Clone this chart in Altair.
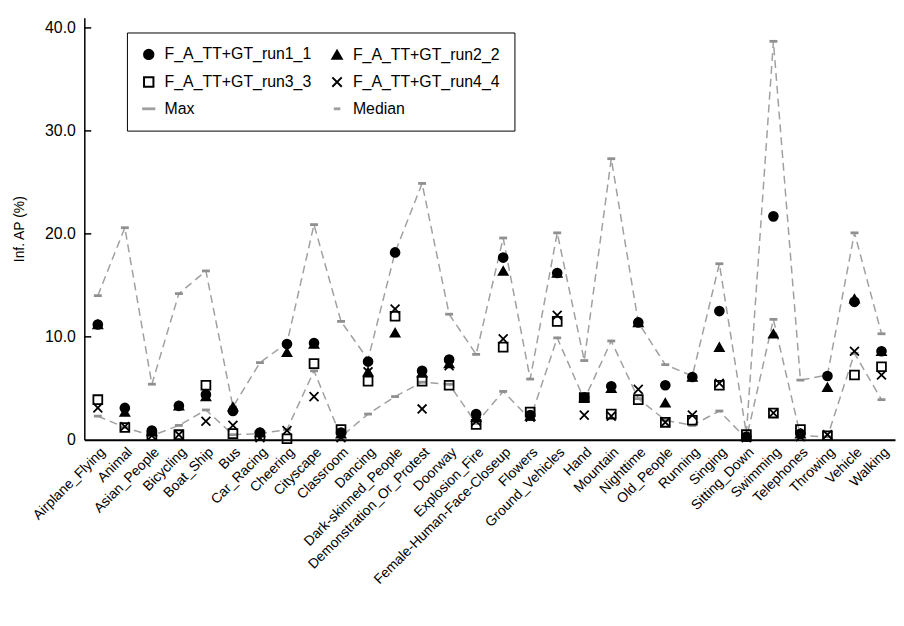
import altair as alt
import pandas as pd

FONT = "Liberation Sans"

categories = [
    "Airplane_Flying", "Animal", "Asian_People", "Bicycling", "Boat_Ship", "Bus",
    "Car_Racing", "Cheering", "Cityscape", "Classroom", "Dancing", "Dark-skinned_People",
    "Demonstration_Or_Protest", "Doorway", "Explosion_Fire", "Female-Human-Face-Closeup",
    "Flowers", "Ground_Vehicles", "Hand", "Mountain", "Nighttime", "Old_People",
    "Running", "Singing", "Sitting_Down", "Swimming", "Telephones", "Throwing",
    "Vehicle", "Walking",
]

run1 = [11.2, 3.1, 0.9, 3.3, 4.4, 2.8, 0.7, 9.3, 9.4, 0.7, 7.6, 18.2, 6.7, 7.8, 2.5,
        17.7, 2.4, 16.2, 4.1, 5.2, 11.4, 5.3, 6.1, 12.5, 0.3, 21.7, 0.6, 6.2, 13.4, 8.6]
run2 = [11.2, 2.7, 0.8, 3.3, 4.2, 3.2, 0.7, 8.5, 9.3, 0.6, 6.6, 10.4, 6.5, 7.4, 2.2,
        16.4, 2.3, 16.2, 4.1, 5.0, 11.4, 3.6, 6.1, 9.0, 0.3, 10.3, 0.6, 5.1, 13.7, 8.6]
run3 = [3.9, 1.2, 0.4, 0.5, 5.3, 0.6, 0.4, 0.1, 7.4, 1.0, 5.7, 12.0, 5.7, 5.3, 1.5,
        9.0, 2.7, 11.5, 4.1, 2.5, 3.9, 1.7, 1.9, 5.3, 0.5, 2.6, 1.0, 0.4, 6.3, 7.1]
run4 = [3.1, 1.3, 0.4, 0.5, 1.8, 1.4, 0.2, 0.9, 4.2, 0.2, 6.6, 12.7, 3.0, 7.2, 1.8,
        9.8, 2.2, 12.1, 2.4, 2.3, 4.9, 1.7, 2.4, 5.5, 0.2, 2.6, 0.3, 0.5, 8.6, 6.3]
max_vals = [14.0, 20.6, 5.4, 14.2, 16.4, 3.2, 7.5, 9.4, 20.9, 11.5, 7.8, 18.2, 24.9, 12.2, 8.3,
            19.6, 5.9, 20.1, 7.7, 27.3, 11.4, 7.3, 6.2, 17.1, 0.6, 38.7, 5.8, 6.3, 20.1, 10.3]
median_vals = [2.3, 1.2, 0.4, 1.4, 2.9, 0.5, 0.6, 1.0, 6.7, 0.3, 2.5, 4.2, 5.6, 5.4, 1.6,
               4.7, 2.0, 9.9, 3.9, 9.6, 4.0, 1.9, 1.4, 2.8, 0.1, 11.7, 0.4, 0.3, 8.4, 3.9]

series_names = ["F_A_TT+GT_run1_1", "F_A_TT+GT_run2_2", "F_A_TT+GT_run3_3",
                "F_A_TT+GT_run4_4", "Max", "Median"]
y_ticks = [0, 10, 20, 30, 40]

run_rows = []
for name, vals in zip(series_names[:4], [run1, run2, run3, run4]):
    for c, v in zip(categories, vals):
        run_rows.append({"series": name, "category": c, "value": v})
df_runs = pd.DataFrame(run_rows)

stat_rows = []
for name, vals in zip(series_names[4:], [max_vals, median_vals]):
    for c, v in zip(categories, vals):
        stat_rows.append({"series": name, "category": c, "value": v})
df_stats = pd.DataFrame(stat_rows)

df_ticks = pd.DataFrame({"value": y_ticks[1:]})

GRAY = "#a0a0a0"
X_SHAPE = "M-1,-1L1,1M-1,1L1,-1"
shapes = ["circle", "triangle-up", "square", X_SHAPE,
          "M-1.4,-0.3H1.4V0.3H-1.4Z", "M-0.7,-0.3H0.7V0.3H-0.7Z"]
fills = ["black", "black", "transparent", "transparent", GRAY, GRAY]
strokes = ["black", "black", "black", "black", "transparent", "transparent"]

x_enc = alt.X(
    "category:N", sort=categories,
    scale=alt.Scale(type="point", padding=0.5),
    axis=alt.Axis(title=None, labelAngle=-45, labelFontSize=14, labelFont=FONT,
                  labelColor="black", ticks=False, domainColor="black",
                  domainWidth=2, labelPadding=5, labelLimit=0),
)
y_enc = alt.Y(
    "value:Q",
    scale=alt.Scale(domain=[0, 41], nice=False, zero=True),
    axis=alt.Axis(values=y_ticks, title="Inf. AP (%)",
                  labelExpr="datum.value == 0 ? '0' : format(datum.value, '.1f')",
                  ticks=False, domainColor="black", domainWidth=1.5,
                  labelFont=FONT, labelFontSize=16, labelColor="black", labelPadding=9,
                  titleFont=FONT, titleFontSize=14, titleFontWeight="normal",
                  titleColor="black", titlePadding=18),
)

legend = alt.Legend(
    title=None, orient="none", legendX=43, legendY=15, columns=2,
    direction="horizontal",
    strokeColor="black", fillColor="white", padding=14, rowPadding=10,
    columnPadding=16, labelFont=FONT, labelFontSize=16, labelColor="black",
    symbolSize=90, symbolStrokeWidth=2, labelOffset=8, cornerRadius=0,
)

lines = alt.Chart(df_stats).mark_line(
    strokeDash=[8, 5], color=GRAY, strokeWidth=1.5
).encode(x=x_enc, y=y_enc, detail="series:N")

stat_pts = alt.Chart(df_stats).mark_point(
    shape="M-1,-0.35H1V0.35H-1Z", filled=True, size=64, color="#909090", opacity=1
).encode(x=x_enc, y=y_enc)

run_pts = alt.Chart(df_runs).mark_point(size=80, strokeWidth=1.8, opacity=1).encode(
    x=x_enc, y=y_enc,
    shape=alt.Shape("series:N", scale=alt.Scale(domain=series_names, range=shapes), legend=legend),
    fill=alt.Fill("series:N", scale=alt.Scale(domain=series_names, range=fills), legend=legend),
    stroke=alt.Stroke("series:N", scale=alt.Scale(domain=series_names, range=strokes), legend=legend),
)

ticks = alt.Chart(df_ticks).mark_rule(color="black", strokeWidth=1.5).encode(
    y=alt.Y("value:Q"), x=alt.value(0), x2=alt.value(7)
)

chart = alt.layer(lines, stat_pts, run_pts, ticks).properties(
    width=818, height=426,
    autosize=alt.AutoSizeParams(type="none"),
    padding={"left": 77, "top": 7, "right": 1, "bottom": 170},
).configure_view(stroke=None).configure_axis(grid=False)

chart.save("out.html", embed_options={"renderer": "svg", "actions": False})
